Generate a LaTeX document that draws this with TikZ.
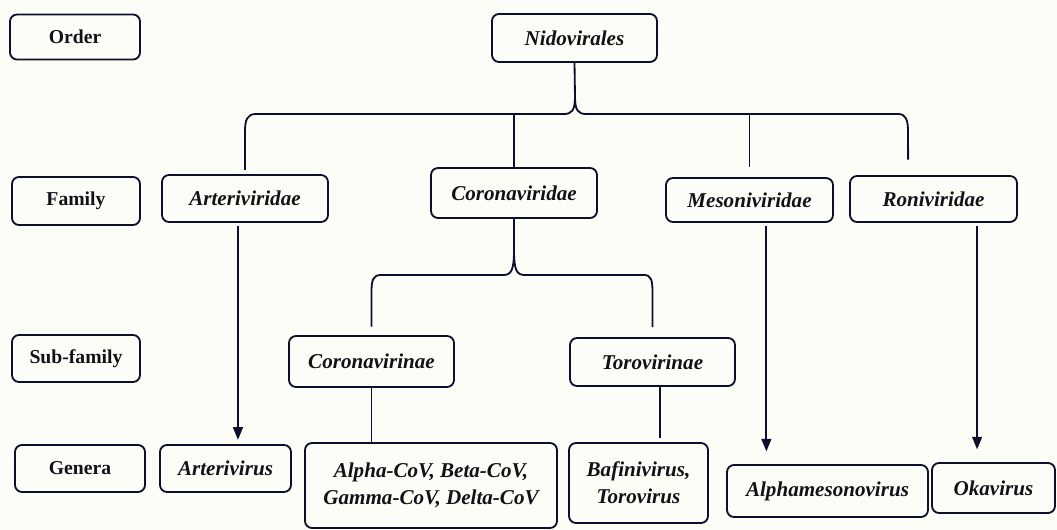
\documentclass[tikz,border=0pt]{standalone}
\usepackage{fontspec}
\setmainfont{Liberation Serif}
\usetikzlibrary{arrows.meta}

\definecolor{linec}{RGB}{12,16,44}
\definecolor{bgc}{RGB}{253,253,247}
\definecolor{txtc}{RGB}{17,17,24}

\begin{document}
\begin{tikzpicture}[
    x=0.025cm, y=-0.025cm,
    box/.style={draw=linec, line width=1.3pt, rounded corners=5pt, inner sep=2pt, align=center, text=txtc},
    rank/.style={box, font=\bfseries\fontsize{14}{17}\selectfont},
    taxon/.style={box, font=\bfseries\itshape\fontsize{15}{19}\selectfont},
    sz/.style 2 args={minimum width=#1*0.025cm, minimum height=#2*0.025cm},
    link/.style={draw=linec, line width=1.3pt},
    arrow/.style={link, -{Triangle[length=9pt, width=7pt]}}
]

% Page
\fill[bgc] (0,0) rectangle (1057,530);
\useasboundingbox (0,0) rectangle (1057,530);

% Rank labels
\node[rank, sz={130}{45}] (order) at (75,37) {Order};
\node[rank, sz={128}{48}] (family) at (76,201) {Family};
\node[rank, sz={128}{47}] (subfam) at (76,358.5) {Sub-family};
\node[rank, sz={130}{47}] (genera) at (80,468.5) {Genera};

% Order and families
\node[taxon, sz={165}{48}] (nido) at (574.5,38) {Nidovirales};
\node[taxon, sz={166}{47}] (arte) at (245,198.5) {Arteriviridae};
\node[taxon, sz={166}{50}] (coro) at (514,193) {Coronaviridae};
\node[taxon, sz={167}{44}] (meso) at (749.5,200) {Mesoniviridae};
\node[taxon, sz={167}{46}] (roni) at (933.5,199) {Roniviridae};

% Sub-families
\node[taxon, sz={165}{51}] (cvir) at (371.5,361.5) {Coronavirinae};
\node[taxon, sz={165}{48}] (tvir) at (652.5,362) {Torovirinae};

% Genera
\node[taxon, sz={131}{47}] (artv) at (225.5,468.5) {Arterivirus};
\node[taxon, sz={252}{85}] (acov) at (431,485.5) {Alpha-CoV, Beta-CoV,\\Gamma-CoV, Delta-CoV};
\node[taxon, sz={139}{80}] (bafi) at (638.5,483) {Bafinivirus,\\Torovirus};
\node[taxon, sz={201}{52}] (alme) at (827.5,491) {Alphamesonovirus};
\node[taxon, sz={123}{50}] (oka) at (993.5,488) {Okavirus};

% Nidovirales brace
\coordinate (ronitop) at ([xshift=-18pt]roni.north);
\draw[link, shorten <=3pt] (arte.north) -- (245,132) .. controls (245,120) and (247,114) .. (256,114)
    -- (564,114) .. controls (572,114) and (575,110) .. (575,97) -- (nido.south);
\draw[link, shorten >=11pt] (575,97) .. controls (575,110) and (578,114) .. (586,114)
    -- (898,114) .. controls (906,114) and (908,120) .. (908,132) -- (ronitop);
\draw[link] (514,114) -- (coro.north);
\draw[link, shorten >=7pt] (749.5,114) -- (meso.north);

% Coronaviridae brace
\draw[link, shorten <=6pt] (cvir.north) -- (371.5,292) .. controls (371.5,280) and (373,275) .. (381,275)
    -- (503,275) .. controls (511,275) and (514,271) .. (514,250) -- (coro.south);
\draw[link, shorten >=7pt] (514,250) .. controls (514,271) and (517,275) .. (525,275)
    -- (644,275) .. controls (651,275) and (652.5,280) .. (652.5,292) -- (tvir.north);

% Down to genera
\coordinate (a1) at ([xshift=-5pt]arte.south);
\coordinate (m1) at ([xshift=12pt]meso.south);
\coordinate (r1) at ([xshift=31pt]roni.south);
\coordinate (t1) at ([xshift=5.5pt]tvir.south);
\draw[arrow, shorten <=2pt, shorten >=3pt] (a1) -- (a1 |- artv.north);
\draw[arrow, shorten <=2pt, shorten >=9pt] (m1) -- (m1 |- alme.north);
\draw[arrow, shorten <=2pt, shorten >=9pt] (r1) -- (r1 |- oka.north);
\draw[link] (cvir.south) -- (cvir.south |- acov.north);
\draw[link, shorten >=3pt] (t1) -- (t1 |- bafi.north);

\end{tikzpicture}
\end{document}
